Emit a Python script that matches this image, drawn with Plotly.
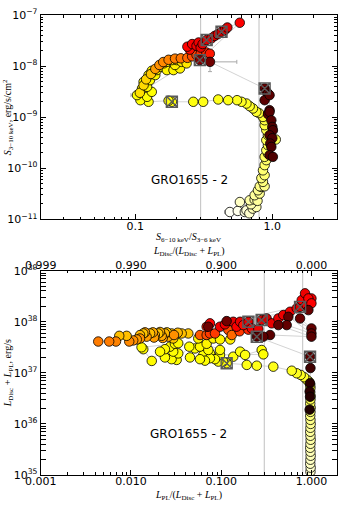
import plotly.graph_objects as go

# ---- top panel: hardness ratio vs 3-10 keV flux (colour = time along the outburst)
hr_top = [0.49, 0.56, 0.63, 0.648, 0.68, 0.58, 0.72, 0.765, 0.70, 0.684,
          0.743, 0.78, 0.743, 0.809, 0.786, 0.832, 0.81, 0.879, 0.855, 0.832,
          0.879, 0.855, 0.879, 0.904, 0.879, 0.929, 0.904, 0.929, 0.904, 1.06,
          0.929, 0.904, 0.879, 0.879, 0.855, 0.80, 0.765, 0.723, 0.684, 0.648,
          0.596, 0.553, 0.476, 0.403, 0.313, 0.265, 0.185, 0.175, 0.125, 0.109,
          0.103, 0.122, 0.132, 0.112, 0.122, 0.115, 0.128, 0.125, 0.14, 0.132,
          0.144, 0.152, 0.17, 0.19, 0.212, 0.195, 0.161, 0.17, 0.185, 0.201,
          0.218, 0.237, 0.108, 0.115, 0.12, 0.13, 0.14, 0.15, 0.16, 0.175,
          0.195, 0.215, 0.24, 0.26, 0.28, 0.30, 0.33, 0.35, 0.25, 0.24,
          0.26, 0.28, 0.29, 0.30, 0.31, 0.332, 0.36, 0.38, 0.40, 0.426,
          0.45, 0.47, 0.579, 0.296, 0.351, 0.879, 0.904, 0.93, 0.879, 0.955,
          0.955, 0.93, 0.955, 0.984, 1.0, 1.01, 0.955, 1.0, 0.966, 0.984,
          0.955, 1.01]
flux_top = [1.39e-11, 1.46e-11, 1.39e-11, 1.5e-11, 1.31e-11, 2.18e-11, 1.62e-11, 1.74e-11, 1.97e-11, 2.36e-11,
            2.43e-11, 2.3e-11, 2.96e-11, 3.19e-11, 3.7e-11, 4.3e-11, 4.43e-11, 4.43e-11, 5.4e-11, 6.4e-11,
            7.3e-11, 9.1e-11, 1.15e-10, 1.44e-10, 1.67e-10, 1.94e-10, 2.25e-10, 2.82e-10, 3.54e-10, 3.65e-10,
            4.43e-10, 5.56e-10, 6.97e-10, 8.7e-10, 1.01e-9, 1.2e-9, 1.27e-9, 1.48e-9, 1.64e-9, 1.85e-9,
            2.0e-9, 2.15e-9, 2.15e-9, 2.22e-9, 2.0e-9, 2.0e-9, 2.0e-9, 2.1e-9, 2.0e-9, 2.15e-9,
            2.7e-9, 2.5e-9, 3.13e-9, 3.65e-9, 3.93e-9, 4.92e-9, 5.3e-9, 6.67e-9, 6.67e-9, 8.1e-9,
            8.35e-9, 9.7e-9, 8.35e-9, 8.35e-9, 9.0e-9, 1.05e-8, 1.13e-8, 1.21e-8, 1.31e-8, 1.31e-8,
            1.21e-8, 1.13e-8, 3.0e-9, 4.2e-9, 5.5e-9, 7.0e-9, 8.8e-9, 1.05e-8, 1.2e-8, 1.33e-8,
            1.4e-8, 1.42e-8, 1.45e-8, 1.55e-8, 1.65e-8, 1.75e-8, 1.85e-8, 1.75e-8, 2.1e-8, 2.4e-8,
            2.7e-8, 2.5e-8, 2.9e-8, 2.3e-8, 2.7e-8, 3.24e-8, 3.5e-8, 3.9e-8, 4.2e-8, 4.71e-8,
            5.1e-8, 5.7e-8, 7.06e-8, 1.31e-8, 1.21e-8, 3.65e-9, 3.2e-9, 2.9e-9, 2.15e-9, 2.7e-9,
            1.37e-9, 1.15e-9, 1.27e-9, 8.7e-10, 6.45e-10, 5.56e-10, 4.43e-10, 3.87e-10, 3.05e-10, 2.62e-10,
            1.8e-10, 1.67e-10]
t_top = [0.99, 0.98, 0.97, 0.96, 0.95, 0.94, 0.93, 0.92, 0.92, 0.91,
         0.91, 0.90, 0.90, 0.89, 0.89, 0.88, 0.88, 0.88, 0.87, 0.87,
         0.86, 0.86, 0.85, 0.85, 0.84, 0.84, 0.84, 0.83, 0.83, 0.83,
         0.82, 0.82, 0.81, 0.81, 0.80, 0.80, 0.79, 0.79, 0.79, 0.78,
         0.78, 0.78, 0.77, 0.77, 0.77, 0.76, 0.76, 0.76, 0.76, 0.75,
         0.75, 0.75, 0.75, 0.75, 0.74, 0.74, 0.74, 0.74, 0.74, 0.74,
         0.73, 0.73, 0.73, 0.73, 0.73, 0.72, 0.72, 0.72, 0.71, 0.71,
         0.71, 0.71, 0.70, 0.69, 0.68, 0.66, 0.60, 0.58, 0.57, 0.56,
         0.55, 0.54, 0.52, 0.48, 0.46, 0.44, 0.42, 0.40, 0.38, 0.37,
         0.36, 0.35, 0.34, 0.33, 0.33, 0.32, 0.32, 0.31, 0.31, 0.30,
         0.30, 0.32, 0.36, 0.18, 0.15, 0.14, 0.13, 0.12, 0.12, 0.12,
         0.12, 0.11, 0.11, 0.11, 0.10, 0.10, 0.10, 0.10, 0.10, 0.10,
         0.10, 0.10]
sq_top = [46, 95, 99, 103, 105]
eb_top_i = [0, 1, 6, 29, 50, 104]
eb_top_xm = [0.04, 0.07, 0.0, 0.13, 0.01, 0.07]
eb_top_xp = [0.06, 0.0, 0.07, 0.07, 0.012, 0.20]
eb_top_ym = [0, 0, 0, 0, 0, 4.3e-9]
eb_top_yp = [0, 0, 0, 0, 0, 4.3e-9]

# ---- bottom panel: power-law fraction vs total luminosity
lpl_bot = [0.975, 0.98, 0.97, 0.975, 0.98, 0.975, 0.97, 0.975, 0.98, 0.975,
           0.97, 0.975, 0.98, 0.975, 0.97, 0.975, 0.98, 0.97, 0.975, 0.98,
           0.97, 0.975, 0.97, 0.94, 0.89, 0.83, 0.76, 0.687, 0.605, 0.378,
           0.248, 0.192, 0.115, 0.105, 0.093, 0.136, 0.162, 0.184, 0.281, 0.293,
           0.097, 0.0751, 0.0633, 0.0853, 0.0751, 0.0661, 0.0582, 0.0451, 0.0512, 0.0443,
           0.0321, 0.0282, 0.0334, 0.0294, 0.0238, 0.0271, 0.0238, 0.021, 0.017, 0.0137,
           0.0131, 0.0307, 0.0334, 0.0582, 0.072, 0.097, 0.069, 0.0557, 0.0817, 0.097,
           0.126, 0.0432, 0.0365, 0.033, 0.0294, 0.0282, 0.0259, 0.025, 0.0238, 0.0225,
           0.0219, 0.021, 0.0201, 0.0184, 0.018, 0.0175, 0.0163, 0.0149, 0.0143, 0.0137,
           0.0126, 0.0126, 0.0116, 0.0106, 0.00957, 0.00896, 0.00742, 0.00682, 0.00574, 0.00434,
           0.03, 0.0582, 0.069, 0.0751, 0.0853, 0.12, 0.131, 0.16, 0.2, 0.069,
           0.0751, 0.097, 0.11, 0.136, 0.148, 0.162, 0.176, 0.2, 0.218, 0.258,
           0.281, 0.319, 0.363, 0.43, 0.488, 0.58, 0.687, 0.748, 0.78, 0.885,
           0.849, 1.0, 0.925, 1.0, 0.0719, 0.115, 0.925, 0.748, 1.0, 0.555,
           1.0, 0.532, 0.43, 1.0, 0.348, 0.293, 0.248, 0.965, 0.975, 0.965,
           0.955, 0.965, 0.955]
lum_bot = [1.16e35, 1.39e35, 1.66e35, 1.99e35, 2.38e35, 2.85e35, 3.41e35, 4.08e35, 4.89e35, 5.86e35,
           7.0e35, 8.4e35, 1.0e36, 1.2e36, 1.44e36, 1.72e36, 2.07e36, 2.5e36, 3.0e36, 3.5e36,
           4.2e36, 5.1e36, 5.8e36, 6.7e36, 7.3e36, 8.2e36, 9.1e36, 9.8e36, 1.1e37, 1.32e37,
           1.38e37, 1.43e37, 1.54e37, 1.66e37, 1.66e37, 2.07e37, 2.6e37, 2.24e37, 2.8e37, 2.3e37,
           2.24e37, 2.4e37, 2.24e37, 1.85e37, 1.93e37, 1.73e37, 1.85e37, 2.0e37, 3.0e37, 3.25e37,
           1.79e37, 1.85e37, 2.4e37, 2.6e37, 2.0e37, 3.25e37, 2.9e37, 2.6e37, 1.71e37, 2.9e37,
           3.16e37, 3.7e37, 3.8e37, 3.25e37, 2.8e37, 2.8e37, 3.7e37, 4.7e37, 4.7e37, 4.5e37,
           4.5e37, 5.9e37, 5.9e37, 6.1e37, 4.7e37, 5.9e37, 5.1e37, 6.2e37, 5.9e37, 4.8e37,
           5.3e37, 6.3e37, 5.9e37, 5.5e37, 4.9e37, 6.2e37, 5.9e37, 5.1e37, 6.2e37, 5.9e37,
           5.5e37, 4.7e37, 4.5e37, 4.3e37, 4.1e37, 5.3e37, 5.3e37, 4.1e37, 4.1e37, 4.1e37,
           5.5e37, 5.5e37, 5.5e37, 5.9e37, 5.9e37, 6.9e37, 5.5e37, 6.5e37, 7.0e37, 8.0e37,
           9.3e37, 8.0e37, 8.9e37, 1.0e38, 8.0e37, 1.0e38, 8.6e37, 1.0e38, 7.4e37, 7.2e37,
           1.08e38, 1.16e38, 9.3e37, 1.16e38, 1.35e38, 1.57e38, 1.83e38, 1.96e38, 2.65e38, 2.12e38,
           3.6e38, 2.86e38, 2.86e38, 2.29e38, 8.0e37, 1.03e38, 1.69e38, 1.16e38, 7.4e37, 1.25e38,
           5.9e37, 8.6e37, 8.6e37, 5.1e37, 5.5e37, 5.1e37, 5.1e37, 2.07e37, 1.24e37, 6.26e36,
           4.3e36, 3.4e36, 1.9e36]
t_bot = [0.95, 0.95, 0.94, 0.94, 0.93, 0.93, 0.92, 0.92, 0.91, 0.91,
         0.90, 0.90, 0.89, 0.88, 0.87, 0.86, 0.85, 0.84, 0.83, 0.82,
         0.81, 0.80, 0.80, 0.79, 0.79, 0.79, 0.78, 0.78, 0.78, 0.77,
         0.77, 0.77, 0.76, 0.76, 0.76, 0.76, 0.76, 0.76, 0.75, 0.75,
         0.75, 0.75, 0.75, 0.75, 0.75, 0.75, 0.75, 0.75, 0.75, 0.75,
         0.75, 0.75, 0.75, 0.75, 0.75, 0.74, 0.74, 0.74, 0.74, 0.74,
         0.74, 0.74, 0.74, 0.74, 0.74, 0.74, 0.73, 0.73, 0.73, 0.73,
         0.72, 0.66, 0.65, 0.64, 0.66, 0.65, 0.62, 0.66, 0.64, 0.60,
         0.62, 0.63, 0.66, 0.62, 0.60, 0.62, 0.65, 0.60, 0.60, 0.66,
         0.64, 0.58, 0.60, 0.58, 0.57, 0.65, 0.65, 0.56, 0.55, 0.55,
         0.58, 0.50, 0.48, 0.45, 0.45, 0.48, 0.52, 0.45, 0.42, 0.40,
         0.36, 0.34, 0.34, 0.33, 0.36, 0.33, 0.38, 0.33, 0.35, 0.34,
         0.32, 0.30, 0.33, 0.33, 0.34, 0.35, 0.36, 0.32, 0.36, 0.35,
         0.34, 0.36, 0.36, 0.36, 0.15, 0.15, 0.14, 0.14, 0.13, 0.13,
         0.13, 0.13, 0.13, 0.12, 0.12, 0.12, 0.12, 0.12, 0.08, 0.05,
         0.05, 0.04, 0.03]
sq_bot = [32, 117, 120, 127, 146, 147]

vlines = [0.3, 0.8]
top_xticks = [0.1, 1.0]
top_xtext = ['0.1', '1.0']
top_yticks = [1e-11, 1e-10, 1e-9, 1e-8, 1e-7]
bot_xticks = [0.001, 0.01, 0.1, 1.0]
bot_xtext = ['0.001', '0.010', '0.100', '1.000']
bot_x2text = ['0.999', '0.990', '0.900', '0.000']
bot_yticks = [1e35, 1e36, 1e37, 1e38, 1e39]

# matplotlib "hot"
HOT = [[0, 'rgb(11,0,0)'], [0.365, 'rgb(255,0,0)'],
       [0.746, 'rgb(255,255,0)'], [1, 'rgb(255,255,255)']]

fig = go.Figure()


def add_panel(x, y, t, sq, xa, ya, ylim):
    for v in vlines:
        fig.add_trace(go.Scatter(x=[v, v], y=ylim, mode='lines', line=dict(color='#c0c0c0', width=1),
                                 xaxis=xa, yaxis=ya, showlegend=False, hoverinfo='skip'))
    fig.add_trace(go.Scatter(x=x, y=y, mode='lines', line=dict(color='#c8c8c8', width=0.8),
                             xaxis=xa, yaxis=ya, showlegend=False, hoverinfo='skip'))
    fig.add_trace(go.Scatter(x=x, y=y, mode='markers',
                             marker=dict(size=9.5, color=t, colorscale=HOT, cmin=0, cmax=1,
                                         line=dict(color='black', width=0.8)),
                             xaxis=xa, yaxis=ya, showlegend=False))
    fig.add_trace(go.Scatter(x=[x[i] for i in sq], y=[y[i] for i in sq], mode='markers',
                             marker=dict(symbol='square-x-open', size=11, color='#5a5a5a',
                                         line=dict(width=1.4)),
                             xaxis=xa, yaxis=ya, showlegend=False))


# error bars (drawn under the markers)
fig.add_trace(go.Scatter(
    x=[hr_top[i] for i in eb_top_i], y=[flux_top[i] for i in eb_top_i], mode='markers',
    marker=dict(size=1, color='rgba(0,0,0,0)'),
    error_x=dict(type='data', symmetric=False, array=eb_top_xp, arrayminus=eb_top_xm,
                 color='#a8a8a8', thickness=1, width=2),
    error_y=dict(type='data', symmetric=False, array=eb_top_yp, arrayminus=eb_top_ym,
                 color='#a8a8a8', thickness=1, width=2),
    xaxis='x', yaxis='y', showlegend=False, hoverinfo='skip'))

add_panel(hr_top, flux_top, t_top, sq_top, 'x', 'y', [top_yticks[0], top_yticks[-1]])
add_panel(lpl_bot, lum_bot, t_bot, sq_bot, 'x2', 'y2', [bot_yticks[0], bot_yticks[-1]])


def minor_vals(e0, e1):
    return [k * 10.0 ** e for e in range(e0, e1) for k in range(2, 10)]


tickfont = dict(family='DejaVu Sans', size=11, color='black')
ax_common = dict(type='log', showline=True, linecolor='black', linewidth=1, mirror='allticks',
                 ticks='inside', ticklen=5, tickcolor='black', showgrid=False, zeroline=False,
                 tickfont=tickfont, tickmode='array', automargin=False)


def minor(e0, e1):
    return dict(tickmode='array', tickvals=minor_vals(e0, e1), ticks='inside',
                ticklen=2.5, tickcolor='black', showgrid=False)


xd = [0.1194, 0.9874]
fig.update_layout(
    width=341, height=511, margin=dict(l=0, r=0, t=0, b=0),
    plot_bgcolor='white', paper_bgcolor='white',
    xaxis=dict(ax_common, domain=xd, anchor='y', range=[-1.69, 0.47],
               tickvals=top_xticks, ticktext=top_xtext, ticklabelstandoff=-4,
               minor=minor(-2, 1)),
    yaxis=dict(ax_common, domain=[0.5708, 0.9706], anchor='x', range=[-11, -7],
               tickvals=top_yticks,
               ticktext=['10<sup>−11</sup>', '10<sup>−10</sup>', '10<sup>−9</sup>',
                         '10<sup>−8</sup>', '10<sup>−7</sup>'],
               minor=minor(-11, -7)),
    xaxis2=dict(ax_common, domain=xd, anchor='y2', range=[-3, 0.28],
                tickvals=bot_xticks, ticktext=bot_xtext, mirror=False, ticklabelstandoff=-4,
                minor=minor(-3, 1)),
    xaxis3=dict(ax_common, overlaying='x2', anchor='y2', side='top', range=[-3, 0.28],
                tickvals=bot_xticks, ticktext=bot_x2text, mirror=False, ticklabelstandoff=-4,
                minor=minor(-3, 1)),
    yaxis2=dict(ax_common, domain=[0.0705, 0.4703], anchor='x2', range=[35, 39],
                tickvals=bot_yticks,
                ticktext=['10<sup>35</sup>', '10<sup>36</sup>', '10<sup>37</sup>',
                          '10<sup>38</sup>', '10<sup>39</sup>'],
                minor=minor(35, 39)),
)

# dummy trace so xaxis3 is drawn
fig.add_trace(go.Scatter(x=[bot_xticks[0]], y=[bot_yticks[0]], mode='markers',
                         marker=dict(size=1, color='rgba(0,0,0,0)'),
                         xaxis='x3', yaxis='y2', showlegend=False, hoverinfo='skip'))

mfont = dict(family='Liberation Serif', size=10, color='black')
notes = [
    dict(text='GRO1655 - 2', xref='x domain', yref='y domain', x=0.504, y=0.192,
         font=dict(family='DejaVu Sans', size=12, color='black')),
    dict(text='GRO1655 - 2', xref='x2 domain', yref='y2 domain', x=0.498, y=0.20,
         font=dict(family='DejaVu Sans', size=12, color='black')),
    dict(text='<i>S</i><sub>3−10 keV</sub>, erg/s/cm<sup>2</sup>', xref='paper', yref='paper',
         x=0.024, y=0.771, textangle=-90, font=mfont),
    dict(text='<i>S</i><sub>6−10 keV</sub>/<i>S</i><sub>3−6 keV</sub>', xref='paper', yref='paper',
         x=0.553, y=0.536, font=mfont),
    dict(text='<i>L</i><sub>Disc</sub> + <i>L</i><sub>PL</sub>, erg/s', xref='paper', yref='paper',
         x=0.024, y=0.27, textangle=-90, font=mfont),
    dict(text='<i>L</i><sub>PL</sub>/(<i>L</i><sub>Disc</sub> + <i>L</i><sub>PL</sub>)',
         xref='paper', yref='paper', x=0.553, y=0.031, font=mfont),
    dict(text='<i>L</i><sub>Disc</sub>/(<i>L</i><sub>Disc</sub> + <i>L</i><sub>PL</sub>)',
         xref='paper', yref='paper', x=0.553, y=0.508, font=mfont),
]
for a in notes:
    fig.add_annotation(showarrow=False, xanchor='center', yanchor='middle', **a)

# page body has a default 8px margin; drop it so the figure sits at the window origin
fig.write_html("out.html", config={'displayModeBar': False},
               post_script="document.body.style.margin='0px';")
